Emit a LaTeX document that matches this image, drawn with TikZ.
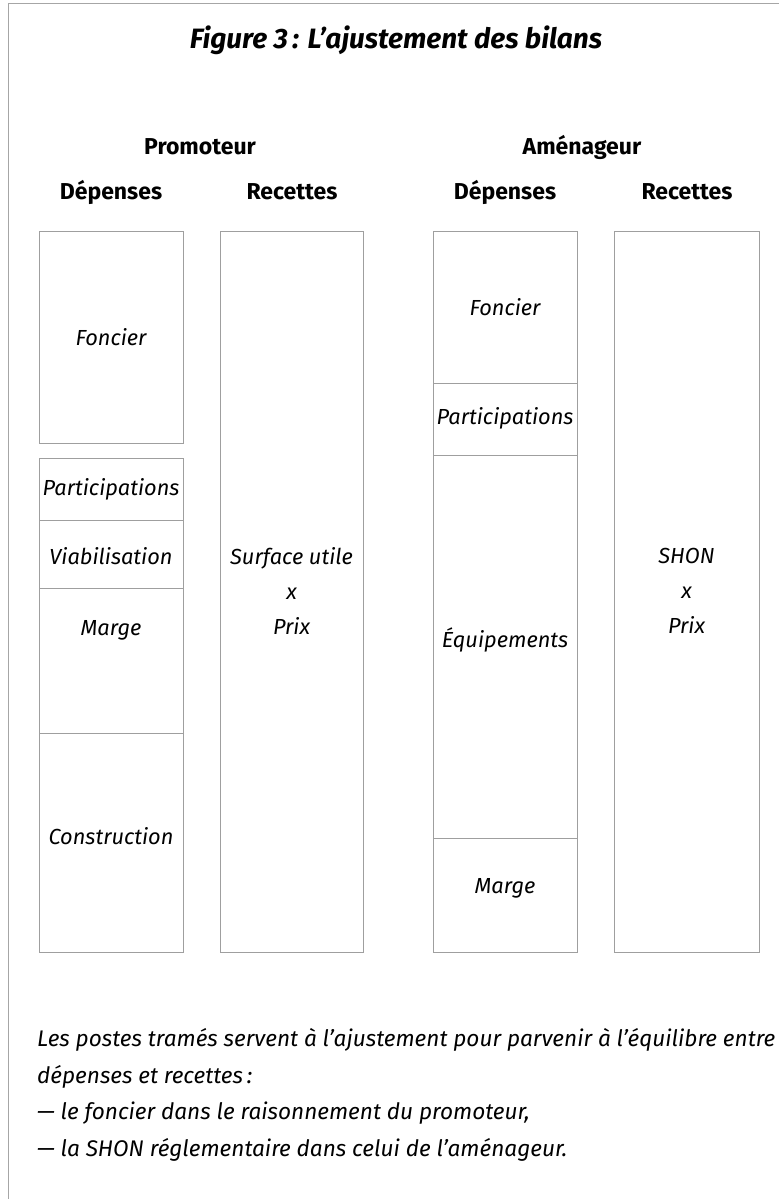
\documentclass[tikz,border=0pt]{standalone}
\usepackage{fontspec}
\setmainfont{Fira Sans}
\begin{document}
\begin{tikzpicture}[x=1pt,y=-1pt,
  cell/.style={draw=gray!75, line width=0.6pt, inner sep=0pt},
  lab/.style={font=\fontsize{21.8}{24}\selectfont\itshape, inner sep=0pt},
  note/.style={font=\fontsize{22.6}{26}\selectfont\itshape, inner sep=0pt, anchor=west},
  head/.style={font=\fontsize{23}{26}\selectfont\bfseries, inner sep=0pt},
  frame/.style={draw=gray!70, line width=0.6pt}]
\useasboundingbox (0,0) rectangle (779,1199);
\coordinate (ftl) at (8,3);
\coordinate (ftr) at (779,3);
\coordinate (fbl) at (8,1199);
\draw[frame] (ftr) -- (ftl) -- (fbl);
% title
\node[font=\fontsize{28}{32}\selectfont\bfseries\itshape, inner sep=0pt] (title) at (396,40) {Figure 3\,: L’ajustement des bilans};
% headings
\node[head] (hprom) at (200,147) {Promoteur};
\node[head] (hamen) at (582,147) {Aménageur};
\node[head] (pdep) at (111,192) {Dépenses};
\node[head] (prec) at (292,192) {Recettes};
\node[head] (adep) at (505,192) {Dépenses};
\node[head] (arec) at (687,192) {Recettes};
% promoteur depenses
\node[cell, minimum width=144, minimum height=212] (pfonb) at (111,337) {};
\node[lab] (pfon) at (111,337) {Foncier};
\node[cell, minimum width=144, minimum height=62] (ppartb) at (111,489) {};
\node[lab] (ppart) at (111,489) {Participations};
\node[cell, minimum width=144, minimum height=68] (pviab) at (111,554) {};
\node[lab] (pvia) at (111,556) {Viabilisation};
\node[cell, minimum width=144, minimum height=145] (pmargb) at (111,660.5) {};
\node[lab] (pmarg) at (111,630) {Marge};
\node[cell, minimum width=144, minimum height=219] (pconsb) at (111,842.5) {};
\node[lab] (pcons) at (111,836) {Construction};
% promoteur recettes
\node[cell, minimum width=143, minimum height=721] (precb) at (291.5,591.5) {};
\node[lab, align=center, font=\fontsize{21.8}{35}\selectfont\itshape] (precl) at (291.5,591) {Surface utile\\x\\Prix};
% amenageur depenses
\node[cell, minimum width=144, minimum height=152] (afonb) at (505,307) {};
\node[lab] (afon) at (505,307) {Foncier};
\node[cell, minimum width=144, minimum height=72] (apartb) at (505,419) {};
\node[lab] (apart) at (505,418) {Participations};
\node[cell, minimum width=144, minimum height=383] (aequb) at (505,646.5) {};
\node[lab] (aequ) at (505,640) {Équipements};
\node[cell, minimum width=144, minimum height=114] (amargb) at (505,895) {};
\node[lab] (amarg) at (505,888) {Marge};
% amenageur recettes
\node[cell, minimum width=145, minimum height=721] (arecb) at (686.5,591.5) {};
\node[lab, align=center, font=\fontsize{21.8}{35}\selectfont\itshape] (arecl) at (686.5,591) {SHON\\x\\Prix};
% footnote
\node[note] (n1) at (37,1040) {Les postes tramés servent à l’ajustement pour parvenir à l’équilibre entre};
\node[note] (n2) at (37,1077) {dépenses et recettes\,:};
\node[note] (n3) at (37,1113) {— le foncier dans le raisonnement du promoteur,};
\node[note] (n4) at (37,1150) {— la SHON réglementaire dans celui de l’aménageur.};
\end{tikzpicture}
\end{document}
